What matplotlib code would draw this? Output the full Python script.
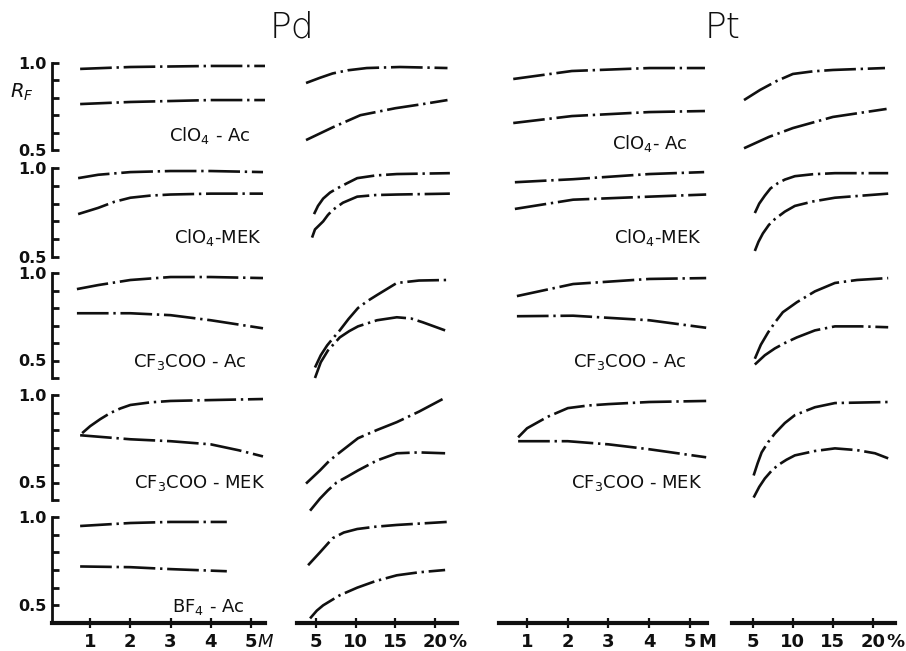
import matplotlib
matplotlib.use("Agg")
import matplotlib.pyplot as plt
import numpy as np

# ---------------- data ----------------
# Pd, concentration in M
PD_M1_UX = [0.75, 2.0, 4.0, 5.35]
PD_M1_UY = [0.966, 0.977, 0.983, 0.983]
PD_M1_LX = [0.75, 2.0, 4.0, 5.35]
PD_M1_LY = [0.764, 0.776, 0.787, 0.787]
PD_M2_UX = [0.7, 1.2, 2.0, 3.0, 4.0, 5.3]
PD_M2_UY = [0.943, 0.962, 0.977, 0.983, 0.983, 0.977]
PD_M2_LX = [0.7, 1.2, 1.6, 2.0, 2.5, 3.0, 4.0, 5.3]
PD_M2_LY = [0.741, 0.776, 0.810, 0.833, 0.845, 0.851, 0.856, 0.856]
PD_M3_UX = [0.67, 1.2, 2.0, 3.0, 4.0, 5.3]
PD_M3_UY = [0.908, 0.931, 0.960, 0.977, 0.977, 0.971]
PD_M3_LX = [0.67, 2.0, 3.0, 4.0, 5.3]
PD_M3_LY = [0.770, 0.770, 0.759, 0.730, 0.684]
PD_M4_UX = [0.8, 1.0, 1.25, 1.5, 1.75, 2.0, 2.5, 3.0, 4.0, 5.3]
PD_M4_UY = [0.782, 0.822, 0.862, 0.897, 0.923, 0.943, 0.958, 0.966, 0.971, 0.977]
PD_M4_LX = [0.75, 2.0, 3.0, 4.0, 4.7, 5.3]
PD_M4_LY = [0.770, 0.747, 0.736, 0.718, 0.684, 0.649]
PD_M5_UX = [0.75, 2.0, 3.0, 4.4]
PD_M5_UY = [0.949, 0.966, 0.972, 0.972]
PD_M5_LX = [0.75, 2.0, 3.0, 4.4]
PD_M5_LY = [0.720, 0.716, 0.705, 0.693]

# Pd, percent
PD_P1_UX = [3.74, 5.5, 7.1, 9.0, 11.4, 15.6, 21.6]
PD_P1_UY = [0.885, 0.915, 0.940, 0.958, 0.971, 0.977, 0.971]
PD_P1_LX = [3.74, 7.1, 10.6, 15.0, 18.5, 21.6]
PD_P1_LY = [0.557, 0.630, 0.700, 0.740, 0.764, 0.787]
PD_P2_UX = [4.75, 5.25, 5.9, 6.77, 7.65, 8.9, 10.2, 12.5, 15.2, 21.9]
PD_P2_UY = [0.741, 0.787, 0.828, 0.862, 0.885, 0.914, 0.943, 0.958, 0.966, 0.971]
PD_P2_LX = [4.5, 4.87, 5.9, 6.5, 7.1, 8.4, 10.2, 12.5, 15.2, 21.9]
PD_P2_LY = [0.609, 0.655, 0.700, 0.736, 0.764, 0.805, 0.839, 0.848, 0.851, 0.856]
PD_P3_UX = [4.87, 5.6, 6.4, 7.2, 8.0, 9.1, 10.3, 11.5, 12.7, 15.2, 18.0, 21.5]
PD_P3_UY = [0.460, 0.530, 0.586, 0.630, 0.672, 0.737, 0.800, 0.840, 0.874, 0.943, 0.957, 0.960]
PD_P3_LX = [4.87, 5.6, 6.5, 8.0, 9.2, 10.3, 12.7, 15.2, 17.0, 18.5, 21.3]
PD_P3_LY = [0.400, 0.490, 0.557, 0.632, 0.668, 0.695, 0.730, 0.747, 0.740, 0.718, 0.672]
PD_P4_UX = [3.74, 5.5, 6.7, 8.0, 10.3, 12.7, 15.2, 18.0, 21.0]
PD_P4_UY = [0.494, 0.569, 0.625, 0.672, 0.753, 0.800, 0.845, 0.905, 0.977]
PD_P4_LX = [4.25, 5.5, 6.5, 7.6, 9.0, 10.3, 12.7, 15.2, 18.0, 21.3]
PD_P4_LY = [0.339, 0.408, 0.455, 0.500, 0.535, 0.569, 0.626, 0.667, 0.672, 0.667]
PD_P5_UX = [4.0, 5.5, 7.1, 8.5, 10.2, 12.5, 15.2, 21.5]
PD_P5_UY = [0.727, 0.800, 0.880, 0.912, 0.932, 0.945, 0.955, 0.972]
PD_P5_LX = [4.25, 5.1, 5.9, 7.0, 8.0, 10.2, 12.5, 15.2, 18.0, 21.3]
PD_P5_LY = [0.426, 0.470, 0.500, 0.530, 0.557, 0.600, 0.637, 0.670, 0.687, 0.700]

# Pt, concentration in M
PT_M1_UX = [0.66, 2.1, 4.0, 5.37]
PT_M1_UY = [0.908, 0.954, 0.971, 0.971]
PT_M1_LX = [0.66, 2.1, 4.0, 5.37]
PT_M1_LY = [0.655, 0.695, 0.718, 0.724]
PT_M2_UX = [0.7, 2.13, 4.0, 5.35]
PT_M2_UY = [0.920, 0.937, 0.966, 0.977]
PT_M2_LX = [0.7, 2.13, 4.0, 5.4]
PT_M2_LY = [0.770, 0.822, 0.839, 0.851]
PT_M3_UX = [0.75, 2.13, 4.0, 5.4]
PT_M3_UY = [0.868, 0.937, 0.966, 0.971]
PT_M3_LX = [0.75, 2.13, 4.0, 5.4]
PT_M3_LY = [0.753, 0.756, 0.730, 0.687]
PT_M4_UX = [0.78, 1.0, 1.5, 2.0, 2.5, 3.0, 4.0, 5.4]
PT_M4_UY = [0.758, 0.810, 0.875, 0.925, 0.940, 0.948, 0.960, 0.966]
PT_M4_LX = [0.78, 2.0, 3.0, 4.0, 5.4]
PT_M4_LY = [0.736, 0.736, 0.718, 0.690, 0.644]

# Pt, percent
PT_P1_UX = [3.9, 5.9, 8.0, 10.0, 12.5, 15.0, 21.5]
PT_P1_UY = [0.787, 0.845, 0.897, 0.937, 0.952, 0.960, 0.971]
PT_P1_LX = [3.9, 7.0, 10.0, 15.0, 21.7]
PT_P1_LY = [0.510, 0.575, 0.626, 0.690, 0.736]
PT_P2_UX = [5.25, 5.8, 6.5, 7.2, 8.1, 9.0, 10.25, 12.5, 15.25, 21.9]
PT_P2_UY = [0.747, 0.800, 0.845, 0.885, 0.914, 0.935, 0.954, 0.965, 0.971, 0.971]
PT_P2_LX = [5.25, 5.7, 6.25, 7.0, 7.75, 9.0, 10.25, 12.5, 15.25, 21.9]
PT_P2_LY = [0.534, 0.585, 0.632, 0.680, 0.713, 0.755, 0.787, 0.812, 0.833, 0.856]
PT_P3_UX = [5.25, 6.0, 6.9, 7.8, 8.75, 10.5, 12.75, 15.25, 18.0, 21.9]
PT_P3_UY = [0.510, 0.590, 0.660, 0.720, 0.776, 0.833, 0.895, 0.943, 0.960, 0.971]
PT_P3_LX = [5.25, 6.5, 7.75, 9.0, 10.5, 12.75, 15.25, 18.5, 21.9]
PT_P3_LY = [0.477, 0.530, 0.569, 0.600, 0.632, 0.672, 0.695, 0.695, 0.690]
PT_P4_UX = [5.1, 5.6, 6.1, 6.9, 7.75, 9.0, 10.25, 12.75, 15.25, 21.9]
PT_P4_UY = [0.540, 0.610, 0.672, 0.730, 0.780, 0.840, 0.885, 0.930, 0.954, 0.960]
PT_P4_LX = [5.1, 5.8, 6.5, 7.3, 8.1, 9.2, 10.25, 12.75, 15.25, 18.0, 20.25, 21.9]
PT_P4_LY = [0.414, 0.475, 0.523, 0.565, 0.598, 0.630, 0.655, 0.680, 0.695, 0.685, 0.667, 0.638]

PD_LABELS = ["ClO$_4$ - Ac", "ClO$_4$-MEK", "CF$_3$COO - Ac", "CF$_3$COO - MEK", "BF$_4$ - Ac"]
PT_LABELS = ["ClO$_4$- Ac", "ClO$_4$-MEK", "CF$_3$COO - Ac", "CF$_3$COO - MEK"]
M_TICKS = [1, 2, 3, 4, 5]
P_TICKS = [5, 10, 15, 20]
Y_LABELED = [1.0, 0.5]

# ---------------- layout ----------------
W, H = 906, 651
fig = plt.figure(figsize=(W / 100, H / 100), dpi=100)

COLS = {
    "pd_m": (52, 265, (0.05, 5.35)),
    "pd_p": (297, 457, (2.6, 22.8)),
    "pt_m": (499, 707, (0.31, 5.42)),
    "pt_p": (732, 895, (2.4, 22.75)),
}
ROWS = [(63, 150, 0.5), (168, 257, 0.5), (273, 378, 0.4), (395, 500, 0.4), (517, 623, 0.4)]

INK = "#101010"
LS = (0, (12, 1.8, 0.9, 1.8))


def make_ax(col, r):
    x0, x1, xl = COLS[col]
    yt, yb, ymin = ROWS[r]
    ax = fig.add_axes([x0 / W, 1 - yb / H, (x1 - x0) / W, (yb - yt) / H])
    ax.set_xlim(*xl)
    ax.set_ylim(ymin, 1.0)
    ax.patch.set_alpha(0)
    for s in ax.spines.values():
        s.set_visible(False)
    ax.set_xticks([])
    ax.set_yticks([])
    return ax


axes = {}
for col in COLS:
    for r in range(5):
        axes[(col, r)] = make_ax(col, r)

curves = [
    ("pd_m", 0, PD_M1_UX, PD_M1_UY), ("pd_m", 0, PD_M1_LX, PD_M1_LY),
    ("pd_m", 1, PD_M2_UX, PD_M2_UY), ("pd_m", 1, PD_M2_LX, PD_M2_LY),
    ("pd_m", 2, PD_M3_UX, PD_M3_UY), ("pd_m", 2, PD_M3_LX, PD_M3_LY),
    ("pd_m", 3, PD_M4_UX, PD_M4_UY), ("pd_m", 3, PD_M4_LX, PD_M4_LY),
    ("pd_m", 4, PD_M5_UX, PD_M5_UY), ("pd_m", 4, PD_M5_LX, PD_M5_LY),
    ("pd_p", 0, PD_P1_UX, PD_P1_UY), ("pd_p", 0, PD_P1_LX, PD_P1_LY),
    ("pd_p", 1, PD_P2_UX, PD_P2_UY), ("pd_p", 1, PD_P2_LX, PD_P2_LY),
    ("pd_p", 2, PD_P3_UX, PD_P3_UY), ("pd_p", 2, PD_P3_LX, PD_P3_LY),
    ("pd_p", 3, PD_P4_UX, PD_P4_UY), ("pd_p", 3, PD_P4_LX, PD_P4_LY),
    ("pd_p", 4, PD_P5_UX, PD_P5_UY), ("pd_p", 4, PD_P5_LX, PD_P5_LY),
    ("pt_m", 0, PT_M1_UX, PT_M1_UY), ("pt_m", 0, PT_M1_LX, PT_M1_LY),
    ("pt_m", 1, PT_M2_UX, PT_M2_UY), ("pt_m", 1, PT_M2_LX, PT_M2_LY),
    ("pt_m", 2, PT_M3_UX, PT_M3_UY), ("pt_m", 2, PT_M3_LX, PT_M3_LY),
    ("pt_m", 3, PT_M4_UX, PT_M4_UY), ("pt_m", 3, PT_M4_LX, PT_M4_LY),
    ("pt_p", 0, PT_P1_UX, PT_P1_UY), ("pt_p", 0, PT_P1_LX, PT_P1_LY),
    ("pt_p", 1, PT_P2_UX, PT_P2_UY), ("pt_p", 1, PT_P2_LX, PT_P2_LY),
    ("pt_p", 2, PT_P3_UX, PT_P3_UY), ("pt_p", 2, PT_P3_LX, PT_P3_LY),
    ("pt_p", 3, PT_P4_UX, PT_P4_UY), ("pt_p", 3, PT_P4_LX, PT_P4_LY),
]
for col, r, xs, ys in curves:
    axes[(col, r)].plot(xs, ys, color=INK, lw=1.9, linestyle=LS,
                        dash_capstyle="butt", solid_joinstyle="round", clip_on=False)

# left brackets (R_F scales) on the Pd concentration column
for r in range(5):
    ax = axes[("pd_m", r)]
    ymin = ROWS[r][2]
    sp = ax.spines["left"]
    sp.set_visible(True)
    sp.set_linewidth(2.0)
    sp.set_color(INK)
    sp.set_bounds(ymin, 1.0)
    ticks = np.round(np.arange(ymin, 1.0001, 0.1), 2)
    ax.set_yticks(ticks)
    ax.set_yticklabels([("%.1f" % t if any(abs(t - v) < 1e-6 for v in Y_LABELED) else "") for t in ticks])
    ax.tick_params(axis="y", direction="in", length=5, width=2, color=INK, pad=4,
                   labelsize=11.5, labelcolor=INK)
    for lab in ax.get_yticklabels():
        lab.set_fontweight("bold")

# bottom axes
for col, ticks in (("pd_m", M_TICKS), ("pd_p", P_TICKS), ("pt_m", M_TICKS), ("pt_p", P_TICKS)):
    ax = axes[(col, 4)]
    sp = ax.spines["bottom"]
    sp.set_visible(True)
    sp.set_linewidth(3.0)
    sp.set_color(INK)
    ax.set_xticks(ticks)
    ax.set_xticklabels([str(t) for t in ticks])
    ax.tick_params(axis="x", direction="inout", length=7, width=1.6, color=INK, pad=4,
                   labelsize=13, labelcolor=INK)
    for lab in ax.get_xticklabels():
        lab.set_fontweight("bold")

# unit labels right after the last tick label
UNIT_SPECS = [("pd_m", 5, "M", 5.0, {"fontstyle": "italic"}),
              ("pt_m", 5, "M", 6.0, {"fontweight": "bold"}),
              ("pd_p", 20, "%", 9.5, {"fontweight": "bold"}),
              ("pt_p", 20, "%", 9.5, {"fontweight": "bold"})]
for col, xt, s, dx, kw in UNIT_SPECS:
    ax = axes[(col, 4)]
    ax.annotate(s, xy=(xt, 0), xycoords=ax.get_xaxis_transform(),
                xytext=(dx, -7.5), textcoords="offset points",
                ha="left", va="top", fontsize=13, color=INK, annotation_clip=False, **kw)

# titles and axis label
fig.text(292 / W, 1 - 28 / H, "Pd", ha="center", va="center", fontsize=26, fontweight="light", color=INK)
fig.text(723 / W, 1 - 28 / H, "Pt", ha="center", va="center", fontsize=26, fontweight="light", color=INK)
fig.text(22 / W, 1 - 92 / H, "$R_F$", ha="center", va="center", fontsize=14, color=INK)

# row labels
PD_LAB_POS = [(210, 135), (218, 238), (190, 362), (200, 483), (208, 607)]
PT_LAB_POS = [(650, 143), (658, 238), (630, 362), (637, 483)]
for s, (x, y) in zip(PD_LABELS, PD_LAB_POS):
    fig.text(x / W, 1 - y / H, s, ha="center", va="center", fontsize=13, color=INK)
for s, (x, y) in zip(PT_LABELS, PT_LAB_POS):
    fig.text(x / W, 1 - y / H, s, ha="center", va="center", fontsize=13, color=INK)

fig.savefig("out.png", dpi=100, facecolor="white")
